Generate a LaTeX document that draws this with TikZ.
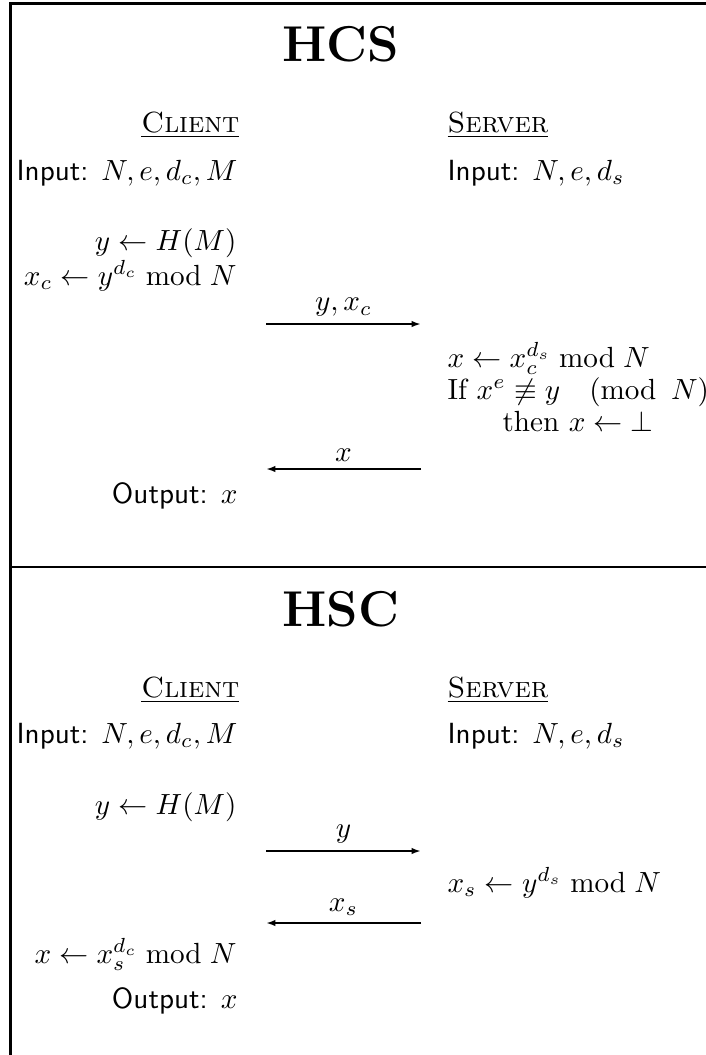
\documentclass[tikz,border=0pt]{standalone}
\usepackage{amsmath,amssymb}
\usetikzlibrary{arrows.meta}
\begin{document}
\begin{tikzpicture}[x=0.343pt,y=-0.343pt,
  frame/.style={line width=1pt},
  msg/.style={line width=0.8pt,-{Latex[length=3.2pt,width=2.2pt]}},
  lbl/.style={above,inner sep=2.2pt},
  le/.style={anchor=base east,inner sep=0pt},
  lw/.style={anchor=base west,inner sep=0pt},
  ttl/.style={font=\LARGE\bfseries,inner sep=0pt}]
\useasboundingbox (0,0) rectangle (706,1055);
% frame
\draw[frame] (706,3.5) -- (10.5,3.5) -- (10.5,1055);
\draw[frame] (10.5,567) -- (706,567);
% ---------- HCS ----------
\node[ttl] (t1) at (341,44) {HCS};
\node[le] (c1) at (240,132) {\underline{\textsc{Client}}};
\node[lw] (s1) at (447,132) {\underline{\textsc{Server}}};
\node[le] (ic1) at (238,180) {\textsf{Input:} $N, e, d_c, M$};
\node[lw] (is1) at (447,180) {\textsf{Input:} $N, e, d_s$};
\node[le] (yh1) at (237,250) {$y \leftarrow H(M)$};
\node[le] (xc1) at (237,285) {$x_c \leftarrow y^{d_c} \bmod N$};
\coordinate (a1s) at (266,324);
\coordinate (a1e) at (421,324);
\draw[msg] (a1s) -- node[lbl] (l1) {$y, x_c$} (a1e);
\node[lw] (xs1) at (447,367) {$x \leftarrow x_c^{d_s} \bmod N$};
\node[lw] (if1) at (447,399) {If $x^e \not\equiv y \mkern18mu(\operatorname{mod}\mkern6mu N)$};
\node[lw] (th1) at (502,431) {then $x \leftarrow \bot$};
\coordinate (a2s) at (421,469);
\coordinate (a2e) at (266,469);
\draw[msg] (a2s) -- node[lbl] (l2) {$x$} (a2e);
\node[le] (o1) at (238,503) {\textsf{Output:} $x$};
% ---------- HSC ----------
\node[ttl] (t2) at (341,609) {HSC};
\node[le] (c2) at (240,697) {\underline{\textsc{Client}}};
\node[lw] (s2) at (447,697) {\underline{\textsc{Server}}};
\node[le] (ic2) at (238,743) {\textsf{Input:} $N, e, d_c, M$};
\node[lw] (is2) at (447,743) {\textsf{Input:} $N, e, d_s$};
\node[le] (yh2) at (237,814) {$y \leftarrow H(M)$};
\coordinate (b1s) at (266,851);
\coordinate (b1e) at (421,851);
\draw[msg] (b1s) -- node[lbl] (l3) {$y$} (b1e);
\node[lw] (xs2) at (447,892) {$x_s \leftarrow y^{d_s} \bmod N$};
\coordinate (b2s) at (421,923);
\coordinate (b2e) at (266,923);
\draw[msg] (b2s) -- node[lbl] (l4) {$x_s$} (b2e);
\node[le] (xx2) at (237,963) {$x \leftarrow x_s^{d_c} \bmod N$};
\node[le] (o2) at (238,1008) {\textsf{Output:} $x$};
\end{tikzpicture}
\end{document}
